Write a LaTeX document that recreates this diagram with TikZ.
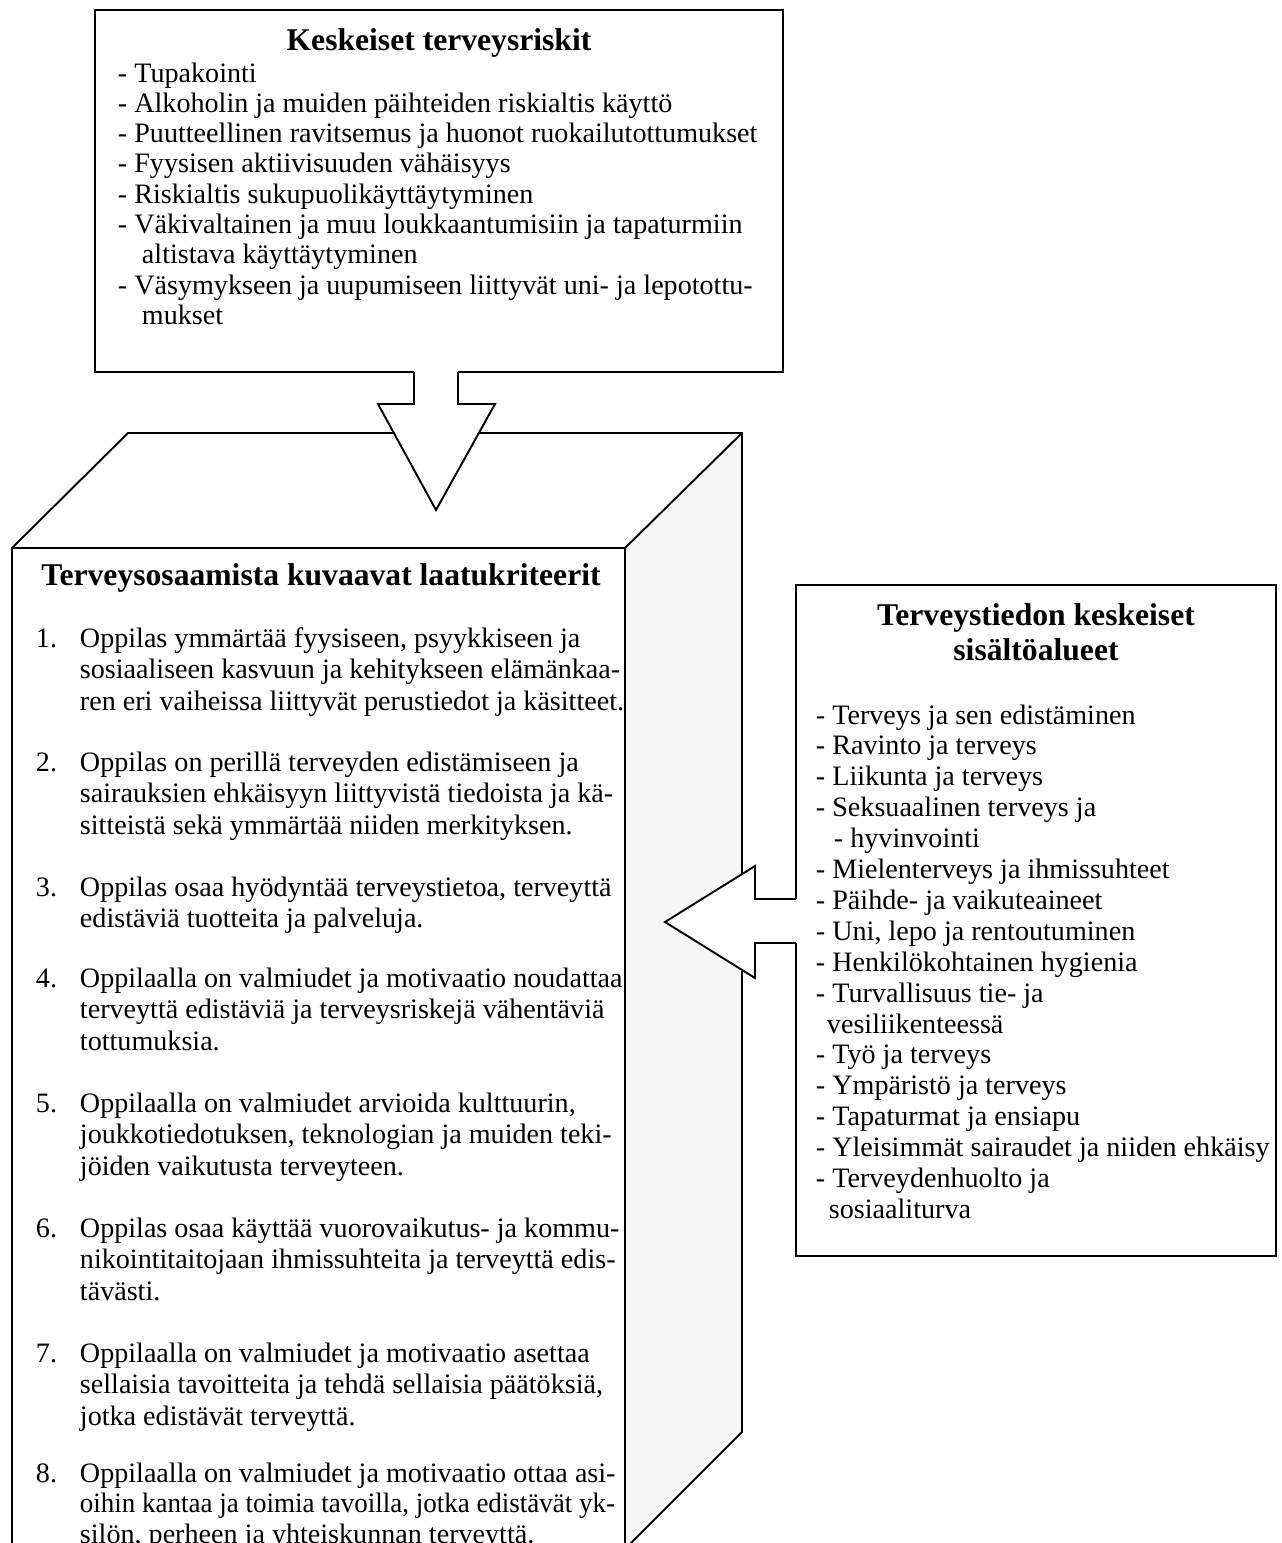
\documentclass[tikz,border=0pt]{standalone}
\usepackage{fontspec}
\setmainfont{Liberation Serif}

\begin{document}
\begin{tikzpicture}[x=0.02cm,y=-0.02cm,line width=1.1pt,
  ttl/.style={anchor=base,inner sep=0pt,font=\bfseries\fontsize{18}{20}\selectfont},
  txt/.style={anchor=base west,inner sep=0pt,font=\fontsize{16}{18}\selectfont},
  sideface/.style={fill=black!3}]
\useasboundingbox (0,0) rectangle (1282,1543);
\clip (0,0) rectangle (1282,1543);
% terveysriskit
\draw (414,372) -- (95,372) -- (95,10) -- (783,10) -- (783,372) -- (458,372);
\node[ttl] (riskit) at (439,50) {Keskeiset terveysriskit};
\foreach \x/\t [count=\i from 0] in {117/- Tupakointi,
  117/- Alkoholin ja muiden päihteiden riskialtis käyttö,
  117/- Puutteellinen ravitsemus ja huonot ruokailutottumukset,
  117/- Fyysisen aktiivisuuden vähäisyys,
  117/- Riskialtis sukupuolikäyttäytyminen,
  117/- Väkivaltainen ja muu loukkaantumisiin ja tapaturmiin,
  141/altistava käyttäytyminen,
  117/- Väsymykseen ja uupumiseen liittyvät uni- ja lepotottu-,
  141/mukset}
  \node[txt] (r\i) at (\x,{82+30.3*\i}) {\t};
% laatikko
\fill[sideface] (625,548) -- (742,433) -- (742,1432) -- (625,1549) -- cycle;
\draw (12,1560) -- (12,548) -- (128,433) -- (742,433) -- (742,1432) -- (625,1549);
\draw (12,548) -- (625,548) -- (742,433) (625,548) -- (625,1560);
\node[ttl] (laatu) at (321,585) {Terveysosaamista kuvaavat laatukriteerit};
\foreach \n/\y in {1/647,2/771,3/896,4/987,5/1112,6/1237,7/1362,8/1482}
  \node[txt] (n\n) at (35,\y) {\n.};
\foreach \y/\t [count=\i] in {647/{Oppilas ymmärtää fyysiseen, psyykkiseen ja},
  678.5/{sosiaaliseen kasvuun ja kehitykseen elämänkaa-},
  710/{ren eri vaiheissa liittyvät perustiedot ja käsitteet.},
  771/{Oppilas on perillä terveyden edistämiseen ja},
  802.5/{sairauksien ehkäisyyn liittyvistä tiedoista ja kä-},
  834/{sitteistä sekä ymmärtää niiden merkityksen.},
  896/{Oppilas osaa hyödyntää terveystietoa, terveyttä},
  927.5/{edistäviä tuotteita ja palveluja.},
  987/{Oppilaalla on valmiudet ja motivaatio noudattaa},
  1018.5/{terveyttä edistäviä ja terveysriskejä vähentäviä},
  1050/{tottumuksia.},
  1112/{Oppilaalla on valmiudet arvioida kulttuurin,},
  1143.5/{joukkotiedotuksen, teknologian ja muiden teki-},
  1175/{jöiden vaikutusta terveyteen.},
  1237/{Oppilas osaa käyttää vuorovaikutus- ja kommu-},
  1268.5/{nikointitaitojaan ihmissuhteita ja terveyttä edis-},
  1300/{tävästi.},
  1362/{Oppilaalla on valmiudet ja motivaatio asettaa},
  1393.5/{sellaisia tavoitteita ja tehdä sellaisia päätöksiä,},
  1425/{jotka edistävät terveyttä.},
  1482/{Oppilaalla on valmiudet ja motivaatio ottaa asi-},
  1512.5/{\scalebox{0.96}[1]{oihin kantaa ja toimia tavoilla, jotka edistävät yk-}},
  1543/{silön, perheen ja yhteiskunnan terveyttä.}}
  \node[txt] (k\i) at (79,\y) {\t};
% sisaltoalueet
\draw (796,899) -- (796,585) -- (1276,585) -- (1276,1256) -- (796,1256) -- (796,943);
\node[ttl] (sisalto) at (1036,625) {Terveystiedon keskeiset};
\node[ttl] (sisalto2) at (1036,660) {sisältöalueet};
\foreach \x/\t [count=\i from 0] in {815/- Terveys ja sen edistäminen,
  815/- Ravinto ja terveys,
  815/- Liikunta ja terveys,
  815/- Seksuaalinen terveys ja,
  833/- hyvinvointi,
  815/- Mielenterveys ja ihmissuhteet,
  815/- Päihde- ja vaikuteaineet,
  815/{- Uni, lepo ja rentoutuminen},
  815/- Henkilökohtainen hygienia,
  815/- Turvallisuus tie- ja,
  826/vesiliikenteessä,
  815/- Työ ja terveys,
  815/- Ympäristö ja terveys,
  815/- Tapaturmat ja ensiapu,
  815/- Yleisimmät sairaudet ja niiden ehkäisy,
  815/- Terveydenhuolto ja,
  828/sosiaaliturva}
  \node[txt] (s\i) at (\x,{724+30.9*\i}) {\t};
% nuolet
\filldraw[fill=white] (414,372) -- (414,404) -- (378,404) -- (436,510) -- (495,404) -- (458,404) -- (458,372);
\filldraw[fill=white] (796,899) -- (755,899) -- (755,866) -- (665,922) -- (755,978) -- (755,943) -- (796,943);
\end{tikzpicture}
\end{document}
